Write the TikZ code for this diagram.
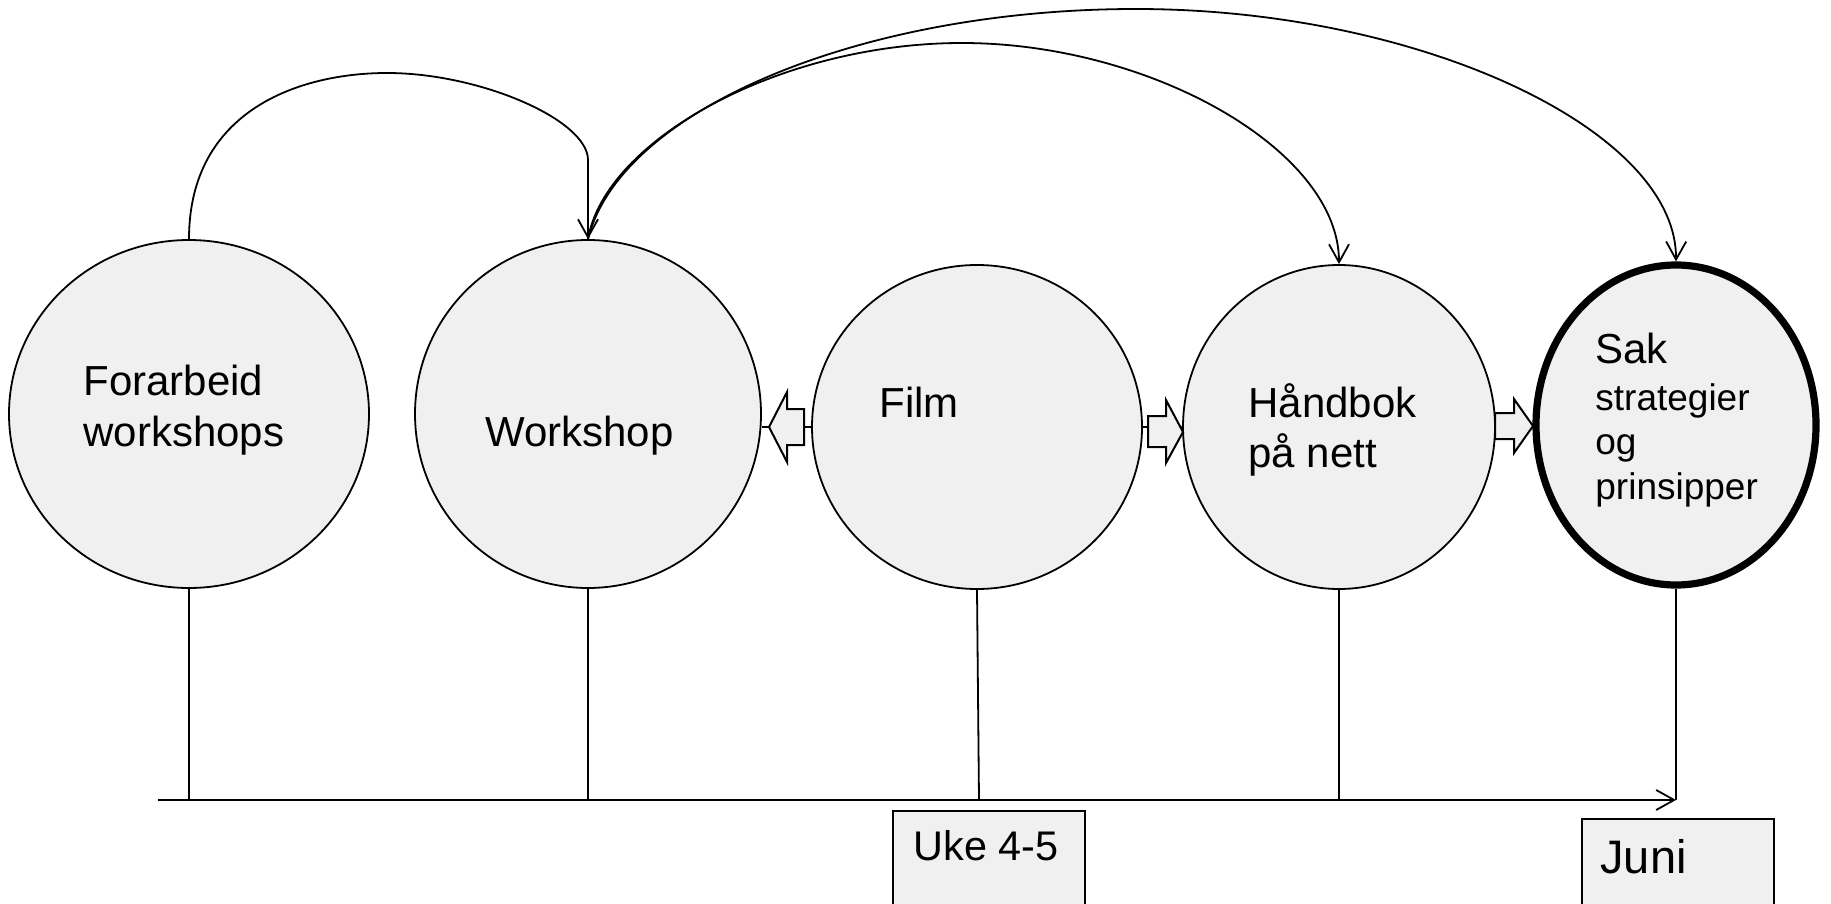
\documentclass[tikz,border=0pt]{standalone}
\usepackage{fontspec}
\setmainfont{Liberation Sans}
\usetikzlibrary{shapes.geometric,arrows.meta,calc}
\definecolor{fillg}{RGB}{240,240,240}
\begin{document}
\begin{tikzpicture}[x=0.5pt,y=-0.5pt,
  bubble/.style={ellipse,draw=black,fill=fillg,line width=0.9pt,inner sep=0pt},
  thickbubble/.style={bubble,line width=3.6pt},
  lbl/.style={anchor=base west,inner sep=0pt,font=\fontsize{21pt}{25.5pt}\selectfont},
  smalllbl/.style={anchor=base west,inner sep=0pt,font=\fontsize{18.5pt}{22pt}\selectfont},
  conn/.style={draw=black,line width=0.9pt},
  tip/.style={-{Straight Barb[length=9pt,width=10pt,line width=0.9pt]}},
  blockarrow/.style={draw=black,fill=fillg,line width=1pt,line join=miter},
  datebox/.style={rectangle,draw=black,fill=fillg,line width=1pt,inner sep=0pt,minimum width=96pt,minimum height=60pt}
]
\useasboundingbox (0,0) rectangle (1831,904);

% bubbles
\node[bubble,minimum width=180pt,minimum height=174pt] (fo) at (189,414) {};
\node[bubble,minimum width=173pt,minimum height=174pt] (ws) at (588,414) {};
\node[bubble,minimum width=165pt,minimum height=162pt] (fi) at (977,427) {};
\node[bubble,minimum width=156pt,minimum height=162pt] (hb) at (1339,427) {};
\node[thickbubble,minimum width=140pt,minimum height=160pt] (sk) at (1676,425) {};

% labels
\node[lbl] (t1) at (83,395) {Forarbeid};
\node[lbl] (t2) at (83,446) {workshops};
\node[lbl] (t3) at (485,446) {Workshop};
\node[lbl] (t4) at (879,417) {Film};
\node[lbl] (t5) at (1248,417) {Håndbok};
\node[lbl] (t6) at (1248,467) {på nett};
\node[lbl] (t7) at (1595,363) {Sak};
\node[smalllbl] (t8) at (1595,410) {strategier};
\node[smalllbl] (t9) at (1595,454) {og};
\node[smalllbl] (t10) at (1595,499) {prinsipper};

% block arrows between bubbles
\draw[conn] (ws.east |- fi.west) -- (fi.west);
\draw[conn] (fi.east) -- (hb.west);
\draw[blockarrow] (769,427) -- (787,392) -- (787,409) -- (804,409) -- (804,445) -- (787,445) -- (787,462) -- cycle;
\draw[blockarrow] (1148,416) -- (1166,416) -- (1166,400) -- (1183,432) -- (1166,463) -- (1166,447) -- (1148,447) -- cycle;
\draw[blockarrow] (1495,413) -- (1514,413) -- (1514,399) -- (1533,426) -- (1514,453) -- (1514,439) -- (1495,439) -- cycle;

% top curved connectors
\draw[conn,tip] (fo.north) .. controls (189,110) and (300,73) .. (387,73)
  .. controls (480,73) and (588,120) .. (588,160) -- (ws.north);
\draw[conn,tip] (ws.north) .. controls (620,110) and (860,9) .. (1136,9)
  .. controls (1420,9) and (1677,130) .. (sk.north);
\draw[conn,tip] (ws.north) .. controls (605,140) and (780,43) .. (962,43)
  .. controls (1150,43) and (1339,150) .. (hb.north);

% timeline
\coordinate (tl0) at (158,800);
\draw[conn,tip] (tl0) -- (sk.south |- tl0);
\draw[conn] (fo.south) -- (fo.south |- tl0);
\draw[conn] (ws.south) -- (ws.south |- tl0);
\draw[conn] (fi.south) -- ($(fi.south |- tl0)+(2,0)$);
\draw[conn] (hb.south) -- (hb.south |- tl0);
\draw[conn] (sk.south) -- (sk.south |- tl0);

% date boxes
\node[datebox,anchor=north west] (b1) at (892,810) {};
\node[datebox,anchor=north west] (b2) at (1581,818) {};
\node[anchor=base west,inner sep=0pt,font=\fontsize{20.7pt}{24pt}\selectfont] (d1) at (913,860) {Uke 4-5};
\node[anchor=base west,inner sep=0pt,font=\fontsize{23.5pt}{28pt}\selectfont] (d2) at (1600,873) {Juni};
\end{tikzpicture}
\end{document}
